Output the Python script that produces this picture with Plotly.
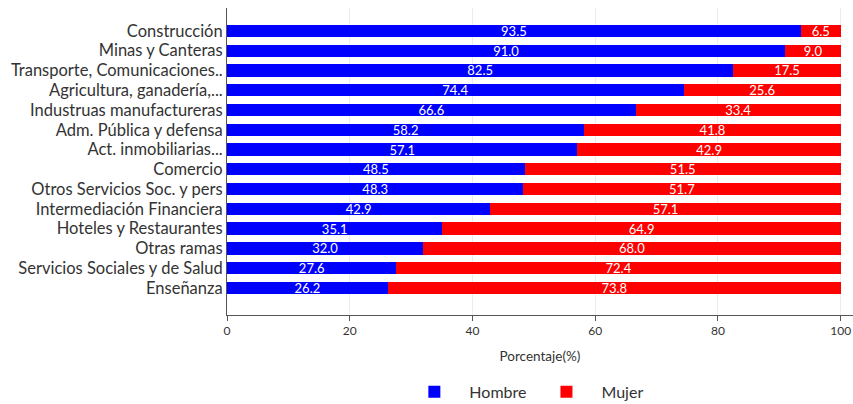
import plotly.graph_objects as go

categorias = [
    "Construcción",
    "Minas y Canteras",
    "Transporte, Comunicaciones..",
    "Agricultura, ganadería,...",
    "Industruas manufactureras",
    "Adm. Pública y defensa",
    "Act. inmobiliarias...",
    "Comercio",
    "Otros Servicios Soc. y pers",
    "Intermediación Financiera",
    "Hoteles y Restaurantes",
    "Otras ramas",
    "Servicios Sociales y de Salud",
    "Enseñanza",
]
hombre = [93.5, 91.0, 82.5, 74.4, 66.6, 58.2, 57.1, 48.5, 48.3, 42.9, 35.1, 32.0, 27.6, 26.2]
mujer = [6.5, 9.0, 17.5, 25.6, 33.4, 41.8, 42.9, 51.5, 51.7, 57.1, 64.9, 68.0, 72.4, 73.8]
x_ticks = [0, 20, 40, 60, 80, 100]

FONT = "Lato"

fig = go.Figure()
fig.add_trace(go.Bar(
    y=categorias, x=hombre, orientation="h", name="Hombre",
    marker=dict(color="#0000ff", line=dict(width=0)),
    text=[f"{v:.1f}" for v in hombre], textposition="inside",
    insidetextanchor="middle", constraintext="none",
    textfont=dict(color="white", size=13, family=FONT),
))
fig.add_trace(go.Bar(
    y=categorias, x=mujer, orientation="h", name="Mujer",
    marker=dict(color="#ff0000", line=dict(width=0)),
    text=[f"{v:.1f}" for v in mujer], textposition="inside",
    insidetextanchor="middle", constraintext="none",
    textfont=dict(color="white", size=13, family=FONT),
))

fig.update_layout(
    barmode="stack",
    bargap=0.38,
    width=853, height=404,
    margin=dict(l=227, r=0, t=8, b=89, autoexpand=False),
    paper_bgcolor="white", plot_bgcolor="white",
    font=dict(family=FONT, color="#333333"),
    legend=dict(
        orientation="h", x=0.475, xanchor="center", y=-0.25, yanchor="middle",
        traceorder="normal",
        font=dict(size=16, color="#333333"), itemwidth=60,
    ),
)
fig.update_xaxes(
    range=[0, 102], tickvals=x_ticks, showgrid=True, gridcolor="#ececec",
    zeroline=False, showline=True, linecolor="#555555", ticks="outside",
    ticklen=5, tickcolor="#555555", tickfont=dict(size=12, color="#333333"),
    automargin=False,
    title=dict(text="Porcentaje(%)", font=dict(size=13.5, color="#333333"), standoff=14),
)
fig.update_yaxes(
    categoryorder="array", categoryarray=categorias, automargin=False,
    tickmode="array", tickvals=categorias, ticktext=categorias,
    range=[14.37, -1.16], showline=True, linecolor="#555555",
    ticks="", showgrid=False, tickfont=dict(size=16.5, color="#333333"),
)

fig.write_html(
    "out.html",
    config={"displayModeBar": False},
    post_script="document.body.style.margin='0';document.body.style.overflow='hidden';",
)
